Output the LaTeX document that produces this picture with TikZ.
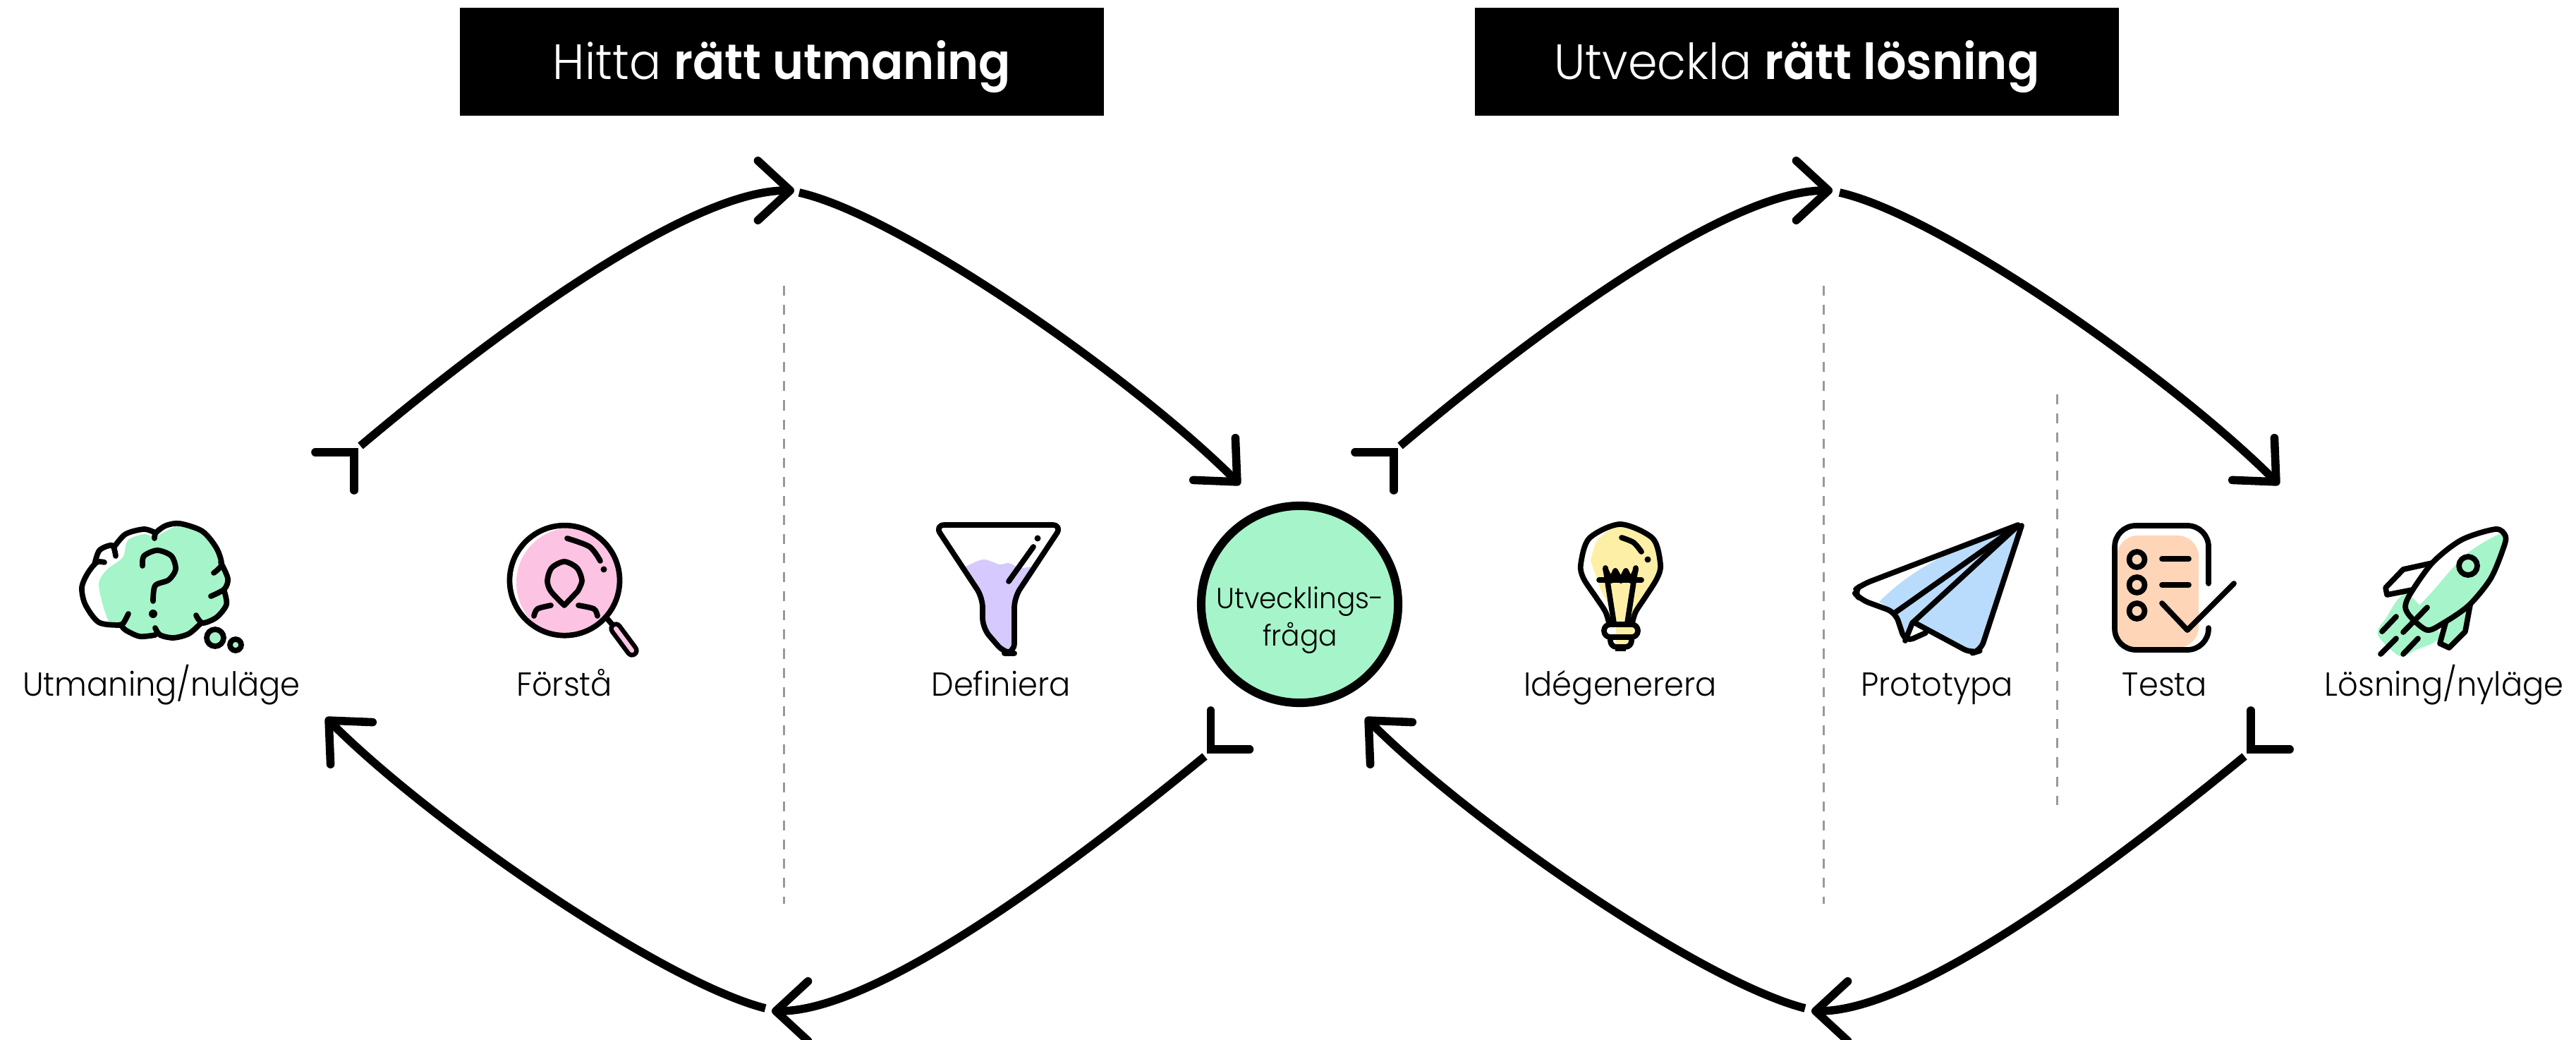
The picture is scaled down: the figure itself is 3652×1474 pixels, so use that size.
\documentclass[tikz,border=0pt]{standalone}
\usepackage{fontspec}
\setmainfont{Poppins Light}[BoldFont={Poppins SemiBold},FakeStretch=0.95]
\usetikzlibrary{arrows.meta}
\definecolor{mint}{HTML}{A6F4C9}
\definecolor{pinkish}{HTML}{FDC3E3}
\definecolor{lilac}{HTML}{D5C9FD}
\definecolor{lemon}{HTML}{FDF0A6}
\definecolor{sky}{HTML}{BADCFC}
\definecolor{peach}{HTML}{FFD5B8}
\begin{document}
\begin{tikzpicture}[x=0.01cm,y=-0.01cm,
	banner/.style = {fill=black, text=white, minimum width=259.7pt, minimum height=43.5pt, inner sep=0pt, text height=14.5pt, text depth=0pt, font=\fontsize{20}{24}\selectfont},
	caption/.style = {anchor=base, inner sep=0pt, font=\fontsize{13.4}{16}\selectfont},
	flow/.style = {line width=3.3pt},
	head/.style = {-{Straight Barb[length=13pt,width=24pt,round]}},
	corner/.style = {line width=3.3pt, line cap=round, line join=miter},
	divider/.style = {draw=black!40, line width=0.85pt, dash pattern=on 4pt off 3.7pt},
	icon/.style = {line width=2.2pt, line cap=round, line join=round}]
	\clip (0,0) rectangle (3652,1474);

	% headers
	\node[banner] (hitta) at (1108.5,87.5) {Hitta \textbf{rätt utmaning}};
	\node[banner] (utveckla) at (2547.5,87.5) {Utveckla \textbf{rätt lösning}};

	% dividers
	\coordinate (d1a) at (1111,405);
	\coordinate (d1b) at (1111,1281);
	\coordinate (d2a) at (2585,405);
	\coordinate (d2b) at (2585,1281);
	\coordinate (d3a) at (2916,559);
	\coordinate (d3b) at (2916,1141);
	\draw[divider] (d1a) -- (d1b);
	\draw[divider] (d2a) -- (d2b);
	\draw[divider] (d3a) -- (d3b);

	% centre
	\node[circle, draw, fill=mint, line width=3.41pt, minimum size=79.4pt, inner sep=0pt] (fraga) at (1842.5,856.5) {};
	\node[align=center, inner sep=0pt, font=\fontsize{11.7}{15}\selectfont] (fragatext) at (1843,879) {Utvecklings-\\fråga};

	% captions
	\node[caption] (utmaning) at (229,987) {Utmaning/nuläge};
	\node[caption] (forsta) at (800,987) {Förstå};
	\node[caption] (definiera) at (1419,987) {Definiera};
	\node[caption] (ide) at (2297,987) {Idégenerera};
	\node[caption] (prototypa) at (2746,987) {Prototypa};
	\node[caption] (testa) at (3069,987) {Testa};
	\node[caption] (losning) at (3465,987) {Lösning/nyläge};

	% corners where an arc leaves
	\coordinate (c1) at (502,641);
	\coordinate (c2) at (1716.5,1062);
	\coordinate (c3) at (1976,641);
	\coordinate (c4) at (3191,1062);
	\draw[corner] (c1) +(-55,0) -- (c1) -- +(0,54);
	\draw[corner] (c2) +(0,-55) -- (c2) -- +(55,0);
	\draw[corner] (c3) +(-55,0) -- (c3) -- +(0,54);
	\draw[corner] (c4) +(0,-55) -- (c4) -- +(55,0);

	% arcs, left loop
	\coordinate (s1) at (511,632);
	\coordinate (t1) at (1126,270);
	\coordinate (s2) at (1133,273);
	\coordinate (t2) at (1758,687);
	\coordinate (s3) at (1708,1072);
	\coordinate (t3) at (1094,1433);
	\coordinate (s4) at (1085,1429);
	\coordinate (t4) at (462,1017);
	\draw[flow,head] (s1) .. controls +(191,-161) and +(-150,0) .. (t1);
	\draw[flow,head] (s2) .. controls +(146,33) and +(-150,-150) .. (t2);
	\draw[flow,head] (s3) .. controls +(-193,158) and +(150,0) .. (t3);
	\draw[flow,head] (s4) .. controls +(-146,-37) and +(150,150) .. (t4);

	% arcs, right loop
	\coordinate (s5) at (1985,632);
	\coordinate (t5) at (2598,270);
	\coordinate (s6) at (2608,273);
	\coordinate (t6) at (3231,687);
	\coordinate (s7) at (3182,1072);
	\coordinate (t7) at (2568,1433);
	\coordinate (s8) at (2559,1429);
	\coordinate (t8) at (1936,1017);
	\draw[flow,head] (s5) .. controls +(191,-161) and +(-150,0) .. (t5);
	\draw[flow,head] (s6) .. controls +(146,33) and +(-150,-150) .. (t6);
	\draw[flow,head] (s7) .. controls +(-193,158) and +(150,0) .. (t7);
	\draw[flow,head] (s8) .. controls +(-146,-37) and +(150,150) .. (t8);

	% thought cloud
	\begin{scope}[shift={(-1,0)}]
	\fill[mint] plot[smooth cycle] coordinates {(222,760) (256,744) (288,753) (314,797) (322,820) (320,857) (306,875) (287,884) (269,898) (247,903) (222,900) (199,902) (176,888) (155,880) (141,830) (152,808) (175,790) (182,766) (205,757)};
	\draw[icon] plot[smooth] coordinates {(220,763) (222,755) (236,745) (256,742) (288,753) (308,777) (315,800) (304,812)};
	\draw[icon] plot[smooth] coordinates {(314,797) (324,820) (319,835) (300,845)};
	\draw[icon] plot[smooth] coordinates {(319,838) (322,857) (308,875) (288,883) (279,872)};
	\draw[icon] plot[smooth] coordinates {(287,882) (269,898) (247,904) (228,900) (221,890)};
	\draw[icon] plot[smooth] coordinates {(221,900) (199,902) (179,893) (172,885)};
	\draw[icon] plot[smooth] coordinates {(183,870) (176,883) (170,886) (141,882) (122,857) (117,833) (125,813) (138,797) (149,797)};
	\draw[icon] plot[smooth] coordinates {(135,800) (142,780) (160,773) (165,788)};
	\draw[icon] plot[smooth] coordinates {(163,775) (179,757) (205,750) (221,755)};
	\draw[icon] plot[smooth] coordinates {(203,802) (205,788) (224,780) (244,788) (250,807) (240,822) (221,830) (218,852)};
	\fill (218,870) circle (6);
	\draw[icon,fill=mint] (306,904) circle (12);
	\draw[icon,fill=mint] (335,914) circle (8);
	\end{scope}

	% magnifier
	\begin{scope}[shift={(-4,0)}]
	\begin{scope}
		\clip (804.5,822.7) circle (78);
		\fill[pinkish] (814,826) circle (78);
	\end{scope}
	\draw[icon] (804.5,822.7) circle (78);
	\draw[icon] (865,877) -- (876,890);
	\draw[line width=5.5pt, line cap=round] (877,891) -- (900,922);
	\draw[pinkish, line width=1.8pt, line cap=round] (877,891) -- (900,922);
	\draw[icon] plot[smooth] coordinates {(808,763) (840,775) (855,795)};
	\fill (860,807) circle (4.5);
	\draw[icon] plot[smooth] coordinates {(804,858) (785,838) (780,823) (786,805) (804,796) (822,805) (829,823) (823,838)} -- (804,858);
	\draw[icon] plot[smooth] coordinates {(761,873) (766,863) (785,858)};
	\draw[icon] plot[smooth] coordinates {(824,858) (846,863) (851,873)};
	\end{scope}

	% funnel
	\begin{scope}[shift={(-1,0)}]
	\fill[lilac] plot[smooth] coordinates {(1370,803) (1395,793) (1418,800) (1431,798) (1447,805) (1463,803)} -- (1439,847) -- (1439,917) -- (1428,923) -- (1394,893) -- (1394,847) -- cycle;
	\draw[icon,rounded corners=4pt] (1326,744) -- (1507,744) -- (1439,847) -- (1439,926) -- (1425,926) -- (1394,890) -- (1394,847) -- cycle;
	\draw[icon] (1466,775) -- (1431,824);
	\fill (1472,763) circle (4.5);
	\end{scope}

	% bulb
	\begin{scope}[shift={(-1,0)}]
	\fill[lemon] plot[smooth] coordinates {(2256,795) (2266,765) (2298,746) (2344,763) (2355,800) (2350,820) (2333,847) (2320,867) (2315,883) (2290,883) (2286,867) (2270,835)} -- cycle;
	\fill[lemon] (2292,888) rectangle (2322,902);
	\fill[lemon] (2292,905) rectangle (2312,915);
	\draw[icon] plot[smooth] coordinates {(2282,883) (2277,867) (2264,847) (2246,820) (2242,800) (2254,763) (2298,743) (2344,763) (2355,800) (2350,820) (2333,847) (2320,867) (2315,883)};
	\draw[icon] (2268,822) -- (2328,822);
	\draw[icon] (2277,805) -- (2289,883);
	\draw[icon] (2320,805) -- (2308,883);
	\draw[icon] (2277,807) -- (2285,823) -- (2291,809) -- (2299,823) -- (2306,809) -- (2313,823) -- (2320,808);
	\draw[icon] plot[smooth] coordinates {(2300,762) (2317,769) (2328,782)};
	\fill (2337,793) circle (4.5);
	\draw[icon,rounded corners=2.5pt] (2275,885) rectangle (2323,903);
	\draw[icon,rounded corners=2.5pt] (2284,903) -- (2284,917) -- (2314,917) -- (2314,903);
	\fill (2291,918) rectangle (2306,923);
	\end{scope}

	% plane
	\begin{scope}[shift={(-3,0)}]
	\fill[sky] (2667,853) .. controls (2720,800) and (2780,775) .. (2864,745) -- (2869,755) -- (2810,917) -- (2797,923) -- (2718,883) -- (2704,908) -- (2690,868) -- cycle;
	\draw[icon,rounded corners=3.5pt] (2864,744) -- (2644,828) -- (2630,838) -- (2641,850) -- (2690,868) -- (2704,910) -- (2733,897);
	\draw[icon,rounded corners=3.5pt] (2718,883) -- (2798,926) -- (2811,922) -- (2869,745);
	\draw[icon] (2690,868) -- (2864,745);
	\draw[icon] (2714,883) -- (2864,745);
	\draw[icon] (2704,908) -- (2714,883);
	\end{scope}

	% checklist
	\begin{scope}[shift={(-1,0)}]
	\fill[peach, rounded corners=8.5pt] (3002,759) rectangle (3118,918);
	\draw[icon,rounded corners=8.5pt] (3132,827) -- (3132,745) -- (2999,745) -- (2999,921) -- (3132,921) -- (3132,890);
	\draw[icon] (3030.5,793) circle (11);
	\draw[icon] (3030.5,829) circle (11);
	\draw[icon] (3030.5,866) circle (11);
	\draw[icon] (3066,792) -- (3104,792);
	\draw[icon] (3066,829) -- (3104,829);
	\draw[icon] (3066,855) -- (3102,893) -- (3168,827);
	\end{scope}

	% rocket
	\begin{scope}[shift={(-3,0)}]
	\fill[mint] plot[smooth cycle] coordinates {(3385,877) (3415,842) (3462,900) (3426,922) (3405,930) (3374,900)};
	\draw[icon] (3451,798) -- (3410,807) -- (3385,833) -- (3387,843) -- (3423,836);
	\fill[mint] plot[smooth cycle] coordinates {(3552,755) (3500,785) (3450,840) (3421,875) (3444,893) (3467,883) (3503,858) (3534,820) (3552,777)};
	\fill[mint] (3505,857) -- (3498,895) -- (3475,918) -- (3462,912) -- (3470,883) -- cycle;
	\draw[icon] plot[smooth cycle] coordinates {(3541,750) (3493,765) (3452,797) (3421,840) (3413,860) (3421,875) (3444,893) (3467,883) (3503,858) (3534,820) (3552,777) (3555,760)};
	\draw[icon] (3505,857) -- (3498,895) -- (3475,918) -- (3462,912) -- (3470,883);
	\draw[icon] (3502,802) circle (13);
	\draw[icon] (3444,861) -- (3410,896);
	\draw[icon] (3400,874) -- (3380,895);
	\draw[icon] (3400,905) -- (3378,927);
	\draw[icon] (3431,905) -- (3410,927);
	\end{scope}
\end{tikzpicture}
\end{document}
